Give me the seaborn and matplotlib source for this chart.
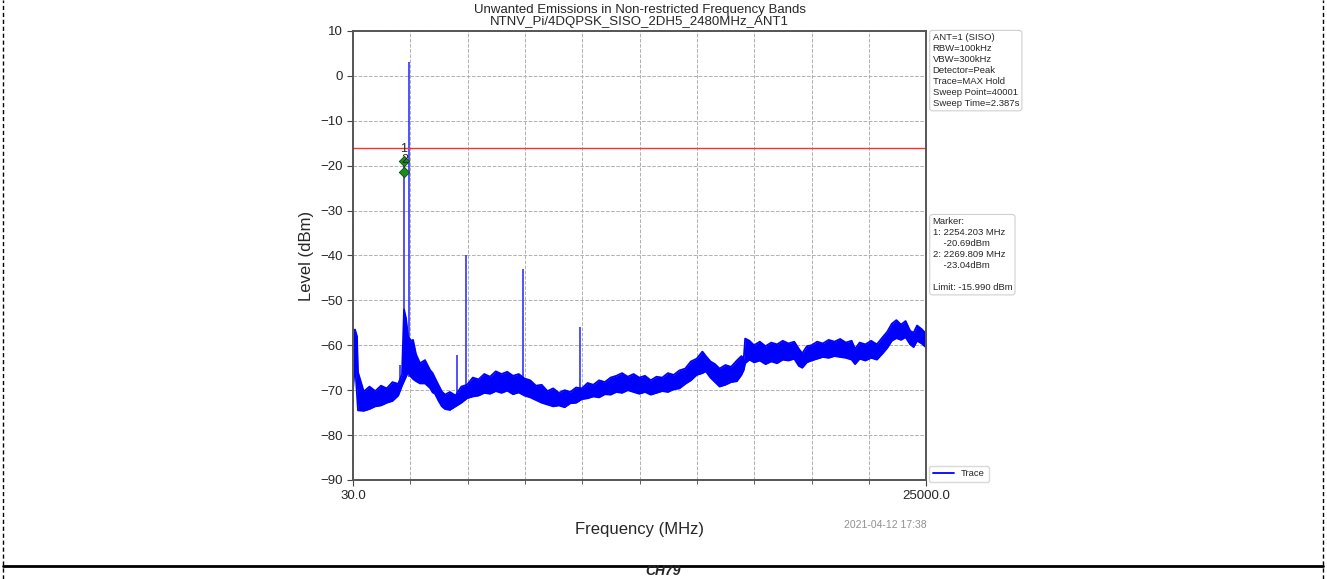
import numpy as np
import pandas as pd
import matplotlib
matplotlib.use('Agg')
import matplotlib.pyplot as plt
from matplotlib.lines import Line2D
from matplotlib.ticker import FixedLocator
import seaborn as sns

# ---------------- data ----------------
# noise band of the MAX hold trace: frequency (MHz), upper / lower edge (dBm)
env_freq = [30, 117, 204, 248, 500, 750, 1000, 1250, 1500, 1750, 2000,
            2165, 2253, 2340, 2427, 2558, 2645, 2776, 2950, 3168, 3386, 3500,
            3604, 3750, 3900, 4040, 4250, 4500, 4750, 5000, 5250, 5500, 5750,
            6000, 6250, 6500, 6750, 7000, 7250, 7500, 7750, 8000, 8250, 8500,
            8750, 9000, 9250, 9500, 9750, 10000, 10250, 10500, 10750, 11000,
            11250, 11500, 11750, 12000, 12250, 12500, 12750, 13000, 13250,
            13500, 13750, 14000, 14250, 14500, 14750, 15000, 15250, 15400,
            15600, 15800, 16000, 16250, 16500, 16750, 16950, 17050, 17113,
            17300, 17500, 17750, 18000, 18250, 18500, 18750, 19000, 19250,
            19450, 19600, 19800, 20000, 20250, 20500, 20750, 21000, 21250,
            21500, 21750, 21900, 22100, 22350, 22600, 22850, 23100, 23300,
            23500, 23700, 23900, 24100, 24300, 24450, 24600, 24800, 25000]
env_upper = [-57, -56.5, -58, -66, -70.3, -69.2, -70.2, -69.0, -69.6, -68.2, -68.6,
             -66.5, -52, -54, -58, -59, -58.8, -62, -64, -63.3, -65.5, -66.2,
             -67.3, -68.8, -70.3, -71, -70.4, -71.2, -69.2, -68.8, -67.2, -67.6, -66.4,
             -67.0, -65.8, -66.4, -65.9, -66.8, -66.4, -67.4, -67.8, -69.0, -68.8, -70.2,
             -69.6, -70.6, -70.0, -70.4, -69.4, -69.6, -68.4, -68.8, -67.8, -68.2,
             -67.2, -66.8, -66.2, -67.0, -66.4, -67.2, -66.8, -67.8, -67.0,
             -67.2, -66.2, -66.6, -65.6, -65.2, -63.6, -63.0, -61.4, -62.4,
             -63.6, -64.2, -65.2, -64.4, -64.8, -63.4, -62.4, -63.0, -58.5,
             -59.0, -60.0, -59.2, -60.2, -59.4, -59.8, -59.0, -59.6, -59.2,
             -60.8, -61.8, -60.2, -60.0, -59.2, -59.6, -58.8, -59.2, -58.6,
             -59.4, -59.0, -60.8, -59.4, -59.8, -59.0, -59.8, -58.2, -57.0,
             -55.2, -54.4, -55.4, -54.6, -56.8, -57.2, -55.6, -56.4, -57.5]
env_lower = [-70, -64, -71, -74.5, -74.6, -74.2, -73.6, -73.4, -72.8, -72.4, -71.2,
             -69, -68, -67, -66, -67, -67.5, -68, -68.5, -68.5, -69.5, -70.5,
             -70.8, -72.3, -73.6, -74.2, -74.4, -73.6, -72.8, -71.8, -71.4, -71.2, -70.6,
             -70.8, -70.2, -70.6, -70.1, -70.9, -70.5, -71.2, -71.6, -72.2, -72.8, -73.2,
             -73.6, -73.4, -73.8, -72.9, -72.8, -72.0, -71.8, -71.4, -71.6, -70.9,
             -71.0, -70.4, -70.6, -70.0, -70.4, -70.8, -70.4, -71.0, -70.6,
             -70.2, -70.4, -69.8, -69.6, -68.6, -67.8, -66.6, -66.2, -65.8,
             -67.2, -68.2, -69.2, -68.8, -68.2, -68.0, -66.6, -65.5, -64.0,
             -63.2, -63.8, -63.4, -64.2, -63.6, -64.0, -63.2, -63.4, -63.0,
             -64.6, -65.0, -63.8, -63.4, -63.0, -62.6, -62.8, -62.4, -62.6,
             -62.8, -63.2, -64.2, -63.0, -63.4, -62.8, -63.2, -61.8, -60.6,
             -59.0, -58.4, -58.8, -58.2, -59.8, -60.4, -59.0, -59.6, -60.5]

# narrow spurs / carrier: frequency (MHz), base and peak level (dBm)
spur_freq = [2078, 2254.2, 2480, 4562, 4960, 7440, 9920]
spur_base = [-69, -67, -67, -73, -71.5, -70.8, -72.3]
spur_peak = [-64.4, -18.9, 3.0, -62.2, -40.0, -43.0, -56.0]

# markers as drawn on the plot
marker_freq = [2254.203, 2269.809]
marker_level = [-18.9, -21.3]
marker_names = ['1', '2']

limit_dbm = -15.990
f_start, f_stop = 30.0, 25000.0

info_text = ("ANT=1 (SISO)\nRBW=100kHz\nVBW=300kHz\nDetector=Peak\n"
             "Trace=MAX Hold\nSweep Point=40001\nSweep Time=2.387s")
marker_text = ("Marker:\n1: 2254.203 MHz\n    -20.69dBm\n2: 2269.809 MHz\n"
               "    -23.04dBm\n\nLimit: -15.990 dBm")

# ---------------- plot ----------------
sns.set_style('white')
plt.rcParams['font.family'] = ['Liberation Sans', 'DejaVu Sans']

fig = plt.figure(figsize=(13.27, 5.79), dpi=100)
ax = fig.add_axes([0.266, 0.171, 0.432, 0.7755])

env = pd.DataFrame({'freq': env_freq, 'upper': env_upper, 'lower': env_lower})
trace_color = '#0000ff'
ax.fill_between(env['freq'], env['lower'], env['upper'], color=trace_color, lw=0)
sns.lineplot(data=env, x='freq', y='upper', ax=ax, color=trace_color, lw=1.3,
             label='Trace')
sns.lineplot(data=env, x='freq', y='lower', ax=ax, color=trace_color, lw=1.3,
             legend=False)
ax.vlines(spur_freq, spur_base, spur_peak, color=trace_color, lw=1.2, alpha=0.8)

# limit line
ax.axhline(limit_dbm, color='#ff3030', lw=1.0)

# markers
ax.scatter(marker_freq, marker_level, marker='D', s=28, color='#1e8a1e',
           edgecolor='#0b4d0b', linewidth=0.6, zorder=5)
for f, lv, nm in zip(marker_freq, marker_level, marker_names):
    ax.text(f, lv + 1.2, nm, ha='center', va='bottom', fontsize=9, zorder=6)

ax.set_xlim(f_start, f_stop)
ax.set_ylim(-90, 10)
ax.set_yticks(np.arange(-90, 11, 10))
ax.set_yticklabels([f'{v}' if v >= 0 else f'\u2212{abs(v)}' for v in range(-90, 11, 10)])
ax.set_xticks([f_start, f_stop])
ax.set_xticklabels(['30.0', '25000.0'])
step = (f_stop - f_start) / 10
ax.xaxis.set_minor_locator(FixedLocator([f_start + k * step for k in range(1, 10)]))
ax.tick_params(axis='both', which='major', labelsize=9.5, length=4, color='#444444')
ax.tick_params(axis='x', which='minor', length=3, color='#444444')
ax.tick_params(axis='y', left=True)
ax.tick_params(axis='x', bottom=True, which='both')
ax.grid(True, which='both', axis='x', ls='--', color='#b0b0b0', lw=0.7)
ax.grid(True, which='major', axis='y', ls='--', color='#b0b0b0', lw=0.7)
for sp in ax.spines.values():
    sp.set_color('#555555')
    sp.set_linewidth(1.4)

ax.set_xlabel('Frequency (MHz)', fontsize=12, labelpad=14)
ax.set_ylabel('Level (dBm)', fontsize=12, labelpad=4)
ax.set_title('Unwanted Emissions in Non-restricted Frequency Bands\n'
             'NTNV_Pi/4DQPSK_SISO_2DH5_2480MHz_ANT1', fontsize=9.5, pad=4,
             linespacing=1.05)

box = dict(boxstyle='round,pad=0.3', facecolor='white', edgecolor='#d0d0d0', lw=0.8)
ax.text(1.011, 0.995, info_text, transform=ax.transAxes, ha='left', va='top',
        fontsize=6.8, linespacing=1.28, bbox=box)
ax.text(1.011, 0.585, marker_text, transform=ax.transAxes, ha='left', va='top',
        fontsize=6.8, linespacing=1.28, bbox=box)

leg = ax.legend(loc='lower left', bbox_to_anchor=(1.005, -0.005), borderaxespad=0,
                fontsize=6.8, frameon=True, handlelength=2.2, fancybox=True)
leg.get_frame().set_edgecolor('#d0d0d0')

ax.text(1.0, -0.09, '2021-04-12 17:38', transform=ax.transAxes, ha='right',
        va='top', fontsize=7.5, color='#909090')

# page frame around the figure
fig.add_artist(Line2D([3 / 1327, 3 / 1327], [0, 1], color='black', lw=1, ls=(0, (3, 2))))
fig.add_artist(Line2D([1323 / 1327, 1323 / 1327], [0, 1], color='black', lw=1, ls=(0, (3, 2))))
fig.add_artist(Line2D([3 / 1327, 1323 / 1327], [1 - 566 / 579] * 2, color='black', lw=2))
fig.text(0.5, 1 - 578 / 579, 'CH79', ha='center', va='bottom', fontsize=10,
         fontweight='bold', fontstyle='italic')

fig.savefig('out.png', dpi=100)
